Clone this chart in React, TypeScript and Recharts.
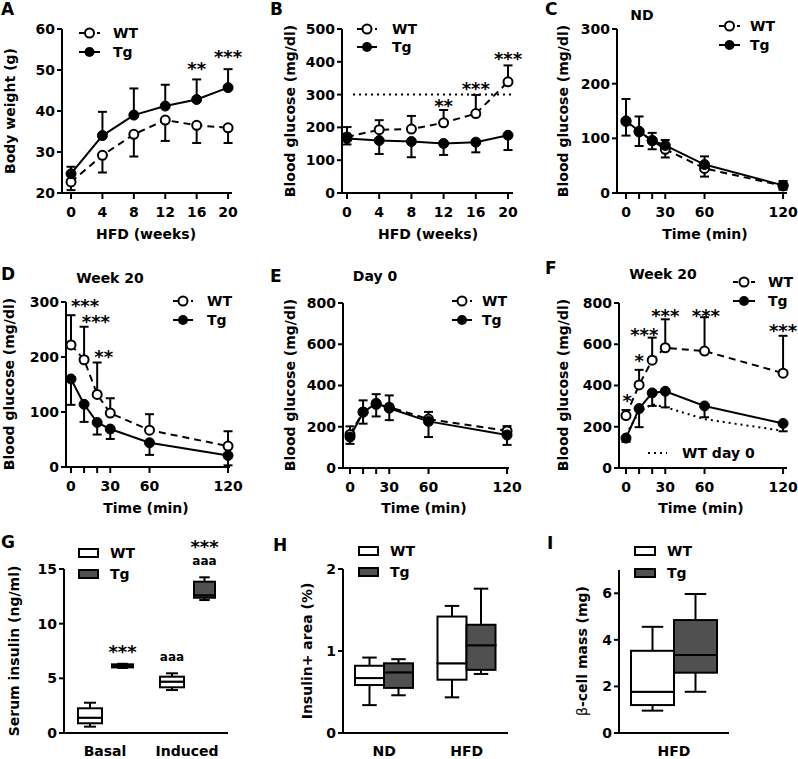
import React from 'react';
import {
  ComposedChart, Line, Bar, XAxis, YAxis, ErrorBar,
  ReferenceLine, ReferenceDot, Legend,
} from 'recharts';

const FONT = '"DejaVu Sans", "Liberation Sans", Arial, sans-serif';

// ---- A: body weight on HFD ----
const weeks = [0, 4, 8, 12, 16, 20];
const weekLabels = ['0', '4', '8', '12', '16', '20'];
const aWt = [22.7, 29.2, 34.3, 37.8, 36.5, 35.9];
const aWtEnd = [20.7, 25.0, 28.9, 32.7, 32.2, 32.2];
const aTg = [24.7, 34.0, 39.0, 41.2, 42.8, 45.7];
const aTgEnd = [26.4, 39.8, 45.5, 46.4, 47.7, 50.2];
const aStars = [{ x: 16, y: 51.2, text: '**' }, { x: 20, y: 54.1, text: '***' }];

// ---- B: fasting glucose on HFD ----
const bWt = [171, 193, 195, 214, 242, 339];
const bWtEnd = [201, 222, 235, 253, 299, 389];
const bTg = [166, 160, 157, 151, 155, 176];
const bTgEnd = [148, 119, 109, 116, 124, 131];
const bThreshold = 300;
const bStars = [{ x: 12, y: 278, text: '**' }, { x: 16, y: 329, text: '***' }, { x: 20, y: 421, text: '***' }];

// ---- C-F: ITT / GTT time courses ----
const times = [0, 10, 20, 30, 60, 120];
const timeLabels = ['0', '', '', '30', '60', '120'];

const cWt = [131, 112, 96, 80, 45, 13];
const cWtEnd = [105, 86, 80, 65, 30, 6];
const cTg = [132, 113, 96, 87, 52, 14];
const cTgEnd = [172, 140, 110, 97, 67, 22];

const dWt = [222, 195, 132, 98, 67, 38];
const dWtEnd = [276, 255, 190, 125, 96, 65];
const dTg = [160, 114, 81, 69, 44, 21];
const dTgEnd = [113, 82, 59, 51, 22, 3];
const dStars = [{ x: 10.7, y: 300, text: '***' }, { x: 19, y: 271, text: '***' }, { x: 25, y: 207, text: '**' }];

const eWt = [163, 272, 309, 295, 237, 180];
const eWtEnd = [202, 328, 358, 352, 272, 203];
const eTg = [150, 270, 314, 290, 226, 160];
const eTgEnd = [117, 215, 250, 232, 150, 112];

const fWt = [254, 403, 523, 583, 567, 460];
const fWtEnd = [281, 476, 632, 721, 731, 641];
const fTg = [145, 288, 364, 372, 301, 216];
const fTgEnd = [127, 198, 301, 294, 246, 178];
const fStars = [
  { x: 1, y: 346, text: '*' }, { x: 10, y: 540, text: '*' }, { x: 14, y: 666, text: '***' },
  { x: 30, y: 758, text: '***' }, { x: 61, y: 758, text: '***' }, { x: 120, y: 682, text: '***' },
];

// ---- G-I: box plots [min, q1, median, q3, max] per category ----
const gCats = ['Basal', 'Induced'];
const gWt = [[0.58, 0.89, 1.4, 2.26, 2.77], [3.93, 4.18, 4.7, 5.15, 5.46]];
const gTg = [[5.95, 6.0, 6.12, 6.28, 6.33], [12.16, 12.37, 12.6, 13.84, 14.24]];
const gWtNotes = [[], ['aaa']];
const gTgNotes = [['***'], ['aaa', '***']];

const hCats = ['ND', 'HFD'];
const hWt = [[0.34, 0.585, 0.67, 0.82, 0.92], [0.435, 0.65, 0.85, 1.42, 1.55]];
const hTg = [[0.46, 0.55, 0.74, 0.85, 0.9], [0.72, 0.77, 1.07, 1.32, 1.76]];

const iCats = ['HFD'];
const iWt = [[0.96, 1.2, 1.77, 3.53, 4.56]];
const iTg = [[1.77, 2.59, 3.35, 4.85, 5.97]];

const TG_FILL = '#505050';
const axisLine = { stroke: '#000', strokeWidth: 2 };
const tickFont = { fill: '#000', fontSize: 14, fontWeight: 700, fontFamily: FONT };
const TOP = 45;
const RIGHT = 15;
const YW = 50;
const XH = 40;

const errOf = (mean: number, end: number) => (end < mean ? [mean - end, 0] : [0, end - mean]);

const lineRows = (xs: number[], wt: number[], wtEnd: number[], tg: number[], tgEnd: number[], day0?: number[]) =>
  xs.map((x, i) => ({
    x,
    wt: wt[i],
    tg: tg[i],
    wtErr: errOf(wt[i], wtEnd[i]),
    tgErr: errOf(tg[i], tgEnd[i]),
    day0: day0 ? day0[i] : undefined,
  }));

type Star = { x: number; y: number; text: string };
type LegendItem = { kind: string; x1: number; x2: number; tx: number; y: number; label: string };

const StarText = ({ cx, cy, text }: { cx: number; cy: number; text: string }) => (
  <text x={cx} y={cy + 10} textAnchor="middle" fontSize={18} fontWeight={700} fontFamily={FONT} fill="#000">
    {text}
  </text>
);

const lineLegend = (items: LegendItem[], left: number, top: number) => () => (
  <svg width={1} height={1} style={{ position: 'absolute', left: 0, top: 0, overflow: 'visible' }}>
    {items.map((it, i) => {
      const y = it.y - top;
      const x1 = it.x1 - left;
      const x2 = it.x2 - left;
      const cx = (x1 + x2) / 2;
      const dash = it.kind === 'wt' ? '5 4' : it.kind === 'day0' ? '2 4' : undefined;
      return (
        <g key={i}>
          <line x1={x1} x2={x2} y1={y} y2={y} stroke="#000" strokeWidth={2} strokeDasharray={dash} />
          {it.kind === 'wt' && <circle cx={cx} cy={y} r={4.5} fill="#fff" stroke="#000" strokeWidth={2} />}
          {it.kind === 'tg' && <circle cx={cx} cy={y} r={5} fill="#000" />}
          <text x={it.tx - left} y={y} dominantBaseline="central" fontSize={14} fontWeight={700} fontFamily={FONT} fill="#000">
            {it.label}
          </text>
        </g>
      );
    })}
  </svg>
);

interface LineSpec {
  box: number[];
  xDomain: number[];
  xTicks: number[];
  xLabels: string[];
  yDomain: number[];
  yTicks: number[];
  rows: any[];
  stars: Star[];
  legend: LegendItem[];
  threshold?: { y: number; from: number; to: number };
  showDay0?: boolean;
}

const LinePanel = ({ spec }: { spec: LineSpec }) => {
  const [pl, pt, pr, pb] = spec.box;
  const left = pl - YW;
  const top = pt - TOP;
  const width = pr - pl + YW + RIGHT;
  const height = pb - pt + TOP + XH;
  return (
    <div style={{ position: 'absolute', left, top }}>
      <ComposedChart width={width} height={height} data={spec.rows} margin={{ top: TOP, right: RIGHT, bottom: 0, left: 0 }}>
        <XAxis
          type="number" dataKey="x" domain={spec.xDomain} ticks={spec.xTicks} interval={0}
          tickFormatter={(v: number) => spec.xLabels[spec.xTicks.indexOf(v)] ?? ''}
          height={XH} tickSize={6} tickMargin={8} axisLine={axisLine} tickLine={axisLine} tick={tickFont}
        />
        <YAxis
          type="number" domain={spec.yDomain} ticks={spec.yTicks} interval={0} width={YW}
          tickSize={5} tickMargin={2} axisLine={axisLine} tickLine={axisLine} tick={tickFont}
        />
        {spec.threshold && (
          <ReferenceLine
            segment={[{ x: spec.threshold.from, y: spec.threshold.y }, { x: spec.threshold.to, y: spec.threshold.y }]}
            stroke="#000" strokeWidth={2} strokeDasharray="2 4" ifOverflow="visible"
          />
        )}
        {spec.showDay0 && (
          <Line dataKey="day0" stroke="#000" strokeWidth={2} strokeDasharray="2 4" dot={false} activeDot={false} isAnimationActive={false} />
        )}
        <Line dataKey="wt" stroke="none" dot={false} activeDot={false} isAnimationActive={false} legendType="none">
          <ErrorBar dataKey="wtErr" direction="y" width={4.5} stroke="#000" strokeWidth={2} />
        </Line>
        <Line dataKey="tg" stroke="none" dot={false} activeDot={false} isAnimationActive={false} legendType="none">
          <ErrorBar dataKey="tgErr" direction="y" width={4.5} stroke="#000" strokeWidth={2} />
        </Line>
        <Line
          dataKey="wt" stroke="#000" strokeWidth={2} strokeDasharray="7 5" isAnimationActive={false} activeDot={false}
          dot={{ r: 4.5, fill: '#fff', stroke: '#000', strokeWidth: 2, strokeDasharray: '' }}
        />
        <Line
          dataKey="tg" stroke="#000" strokeWidth={2} isAnimationActive={false} activeDot={false}
          dot={{ r: 5, fill: '#000', stroke: '#000', strokeWidth: 1 }}
        />
        {spec.stars.map((s, i) => (
          <ReferenceDot
            key={i} x={s.x} y={s.y} r={1} ifOverflow="visible"
            shape={(p: any) => <StarText cx={p.cx} cy={p.cy} text={s.text} />}
          />
        ))}
        <Legend
          layout="horizontal" verticalAlign="middle" align="center"
          wrapperStyle={{ left: 0, top: 0 }}
          content={lineLegend(spec.legend, left, top)}
        />
      </ComposedChart>
    </div>
  );
};

// ---- box plot pieces ----
const whiskerLow = (p: any) => {
  const cx = p.x + p.width / 2;
  const cw = p.width * 0.25;
  const yb = p.y + p.height;
  return (
    <g>
      <line x1={cx} x2={cx} y1={p.y} y2={yb} stroke="#000" strokeWidth={2} />
      <line x1={cx - cw} x2={cx + cw} y1={yb} y2={yb} stroke="#000" strokeWidth={2} />
    </g>
  );
};

const whiskerHigh = (notes: string[][]) => (p: any) => {
  const cx = p.x + p.width / 2;
  const cw = p.width * 0.25;
  const list = notes[p.index] || [];
  return (
    <g>
      <line x1={cx} x2={cx} y1={p.y} y2={p.y + p.height} stroke="#000" strokeWidth={2} />
      <line x1={cx - cw} x2={cx + cw} y1={p.y} y2={p.y} stroke="#000" strokeWidth={2} />
      {list.map((n, k) => {
        const cy = p.y - 16 - k * 18;
        const isStar = n.startsWith('*');
        return (
          <text key={k} x={cx} y={cy + (isStar ? 10 : 3.5)} textAnchor="middle" fontSize={isStar ? 18 : 12}
            fontWeight={700} fontFamily={FONT} fill="#000">
            {n}
          </text>
        );
      })}
    </g>
  );
};

const boxShape = (fill: string) => (p: any) => (
  <rect x={p.x} y={p.y} width={p.width} height={p.height} fill={fill} stroke="#000" strokeWidth={2} />
);

const none = () => <g />;

interface BoxSpec {
  box: number[];
  cats: string[];
  yDomain: number[];
  yTicks: number[];
  wt: number[][];
  tg: number[][];
  wtSize: number;
  tgSize: number;
  gap: number;
  wtNotes: string[][];
  tgNotes: string[][];
  legend: { x1: number; x2: number; tx: number; y1: number; y2: number };
}

const BoxPanel = ({ spec }: { spec: BoxSpec }) => {
  const [pl, pt, pr, pb] = spec.box;
  const left = pl - YW;
  const top = pt - TOP;
  const width = pr - pl + YW + RIGHT;
  const height = pb - pt + TOP + XH;
  const rows = spec.cats.map((cat, i) => {
    const w = spec.wt[i];
    const t = spec.tg[i];
    return {
      cat,
      w0: w[0], w1: w[1] - w[0], w2: w[2] - w[1], w3: w[3] - w[2], w4: w[4] - w[3],
      t0: t[0], t1: t[1] - t[0], t2: t[2] - t[1], t3: t[3] - t[2], t4: t[4] - t[3],
    };
  });
  const lg = spec.legend;
  const legend = () => (
    <svg width={1} height={1} style={{ position: 'absolute', left: 0, top: 0, overflow: 'visible' }}>
      {[{ y: lg.y1, fill: '#fff', label: 'WT' }, { y: lg.y2, fill: TG_FILL, label: 'Tg' }].map((it, i) => (
        <g key={i}>
          <rect x={lg.x1 - left} y={it.y - top - 4} width={lg.x2 - lg.x1} height={8} fill={it.fill} stroke="#000" strokeWidth={2} />
          <text x={lg.tx - left} y={it.y - top} dominantBaseline="central" fontSize={14} fontWeight={700} fontFamily={FONT} fill="#000">
            {it.label}
          </text>
        </g>
      ))}
    </svg>
  );
  return (
    <div style={{ position: 'absolute', left, top }}>
      <ComposedChart width={width} height={height} data={rows} barGap={spec.gap} margin={{ top: TOP, right: RIGHT, bottom: 0, left: 0 }}>
        <XAxis
          type="category" dataKey="cat" interval={0} height={XH} tickSize={0} tickMargin={13}
          axisLine={axisLine} tickLine={false} tick={tickFont}
        />
        <YAxis
          type="number" domain={spec.yDomain} ticks={spec.yTicks} interval={0} width={YW}
          tickSize={5} tickMargin={2} axisLine={axisLine} tickLine={axisLine} tick={tickFont}
        />
        <Bar dataKey="w0" stackId="wt" barSize={spec.wtSize} shape={none} isAnimationActive={false} />
        <Bar dataKey="w1" stackId="wt" barSize={spec.wtSize} shape={whiskerLow} isAnimationActive={false} />
        <Bar dataKey="w2" stackId="wt" barSize={spec.wtSize} shape={boxShape('#fff')} isAnimationActive={false} />
        <Bar dataKey="w3" stackId="wt" barSize={spec.wtSize} shape={boxShape('#fff')} isAnimationActive={false} />
        <Bar dataKey="w4" stackId="wt" barSize={spec.wtSize} shape={whiskerHigh(spec.wtNotes)} isAnimationActive={false} />
        <Bar dataKey="t0" stackId="tg" barSize={spec.tgSize} shape={none} isAnimationActive={false} />
        <Bar dataKey="t1" stackId="tg" barSize={spec.tgSize} shape={whiskerLow} isAnimationActive={false} />
        <Bar dataKey="t2" stackId="tg" barSize={spec.tgSize} shape={boxShape(TG_FILL)} isAnimationActive={false} />
        <Bar dataKey="t3" stackId="tg" barSize={spec.tgSize} shape={boxShape(TG_FILL)} isAnimationActive={false} />
        <Bar dataKey="t4" stackId="tg" barSize={spec.tgSize} shape={whiskerHigh(spec.tgNotes)} isAnimationActive={false} />
        <Legend layout="horizontal" verticalAlign="middle" align="center" wrapperStyle={{ left: 0, top: 0 }} content={legend} />
      </ComposedChart>
    </div>
  );
};

const wtTg = (x1: number, x2: number, tx: number, y1: number, y2: number): LegendItem[] => [
  { kind: 'wt', x1, x2, tx, y: y1, label: 'WT' },
  { kind: 'tg', x1, x2, tx, y: y2, label: 'Tg' },
];

const panelA: LineSpec = {
  box: [62, 29, 232, 193], xDomain: [-1.15, 20.5], xTicks: weeks, xLabels: weekLabels,
  yDomain: [20, 60], yTicks: [20, 30, 40, 50, 60],
  rows: lineRows(weeks, aWt, aWtEnd, aTg, aTgEnd), stars: aStars, legend: wtTg(79, 100, 113, 33, 52),
};
const panelB: LineSpec = {
  box: [342, 29, 513, 193], xDomain: [-0.62, 20.62], xTicks: weeks, xLabels: weekLabels,
  yDomain: [0, 500], yTicks: [0, 100, 200, 300, 400, 500],
  rows: lineRows(weeks, bWt, bWtEnd, bTg, bTgEnd), stars: bStars, legend: wtTg(357, 377, 392, 29, 47),
  threshold: { y: bThreshold, from: 0.75, to: 20.6 },
};
const panelC: LineSpec = {
  box: [617, 29, 787, 193], xDomain: [-6.88, 123], xTicks: times, xLabels: timeLabels,
  yDomain: [0, 300], yTicks: [0, 100, 200, 300],
  rows: lineRows(times, cWt, cWtEnd, cTg, cTgEnd), stars: [], legend: wtTg(719, 740, 750, 26, 45),
};
const panelD: LineSpec = {
  box: [66, 302, 230, 467], xDomain: [-3.82, 121.5], xTicks: times, xLabels: timeLabels,
  yDomain: [0, 300], yTicks: [0, 100, 200, 300],
  rows: lineRows(times, dWt, dWtEnd, dTg, dTgEnd), stars: dStars, legend: wtTg(173, 193, 207, 301, 320),
};
const panelE: LineSpec = {
  box: [343, 303, 509, 468], xDomain: [-5.35, 121.5], xTicks: times, xLabels: timeLabels,
  yDomain: [0, 800], yTicks: [0, 200, 400, 600, 800],
  rows: lineRows(times, eWt, eWtEnd, eTg, eTgEnd), stars: [], legend: wtTg(452, 472, 482, 301, 320),
};
const panelF: LineSpec = {
  box: [619, 303, 787, 468], xDomain: [-5.35, 123], xTicks: times, xLabels: timeLabels,
  yDomain: [0, 800], yTicks: [0, 200, 400, 600, 800],
  rows: lineRows(times, fWt, fWtEnd, fTg, fTgEnd, eWt), stars: fStars, showDay0: true,
  legend: [...wtTg(733, 755, 768, 282, 301), { kind: 'day0', x1: 648, x2: 667, tx: 682, y: 453, label: 'WT day 0' }],
};

const panelG: BoxSpec = {
  box: [64, 569, 228, 733], cats: gCats, yDomain: [0, 15], yTicks: [0, 5, 10, 15],
  wt: gWt, tg: gTg, wtSize: 24, tgSize: 21, gap: 10, wtNotes: gWtNotes, tgNotes: gTgNotes,
  legend: { x1: 79, x2: 98, tx: 110, y1: 553, y2: 574 },
};
const panelH: BoxSpec = {
  box: [343, 569, 508, 733], cats: hCats, yDomain: [0, 2], yTicks: [0, 1, 2],
  wt: hWt, tg: hTg, wtSize: 29, tgSize: 29, gap: 0, wtNotes: [], tgNotes: [],
  legend: { x1: 359, x2: 378, tx: 390, y1: 551, y2: 572 },
};
const panelI: BoxSpec = {
  box: [619, 570, 729, 733], cats: iCats, yDomain: [0, 7], yTicks: [0, 2, 4, 6],
  wt: iWt, tg: iTg, wtSize: 43, tgSize: 43, gap: 0, wtNotes: [], tgNotes: [],
  legend: { x1: 635, x2: 655, tx: 667, y1: 551, y2: 573 },
};

const letters: [string, number, number][] = [
  ['A', 1, 15], ['B', 270, 15], ['C', 545, 15], ['D', 1, 280], ['E', 270, 282],
  ['F', 545, 274], ['G', 1, 548], ['H', 273, 551], ['I', 547, 549],
];
const titles: [string, number, number][] = [
  ['ND', 642, 20], ['Week 20', 110, 283], ['Day 0', 375, 281], ['Week 20', 663, 279],
  ['HFD (weeks)', 146, 239], ['HFD (weeks)', 428, 239], ['Time (min)', 705, 239],
  ['Time (min)', 146, 513], ['Time (min)', 424, 513], ['Time (min)', 701, 513],
];
const yTitles: [string, number, number][] = [
  ['Body weight (g)', 10, 111], ['Blood glucose (mg/dl)', 290, 111], ['Blood glucose (mg/dl)', 563, 111],
  ['Blood glucose (mg/dl)', 9, 384], ['Blood glucose (mg/dl)', 290, 385], ['Blood glucose (mg/dl)', 563, 385],
  ['Serum insulin (ng/ml)', 14, 651], ['Insulin+ area (%)', 307, 651],
];

export default function App() {
  return (
    <div style={{ position: 'absolute', left: 0, top: 0, width: 798, height: 759, background: '#fff', overflow: 'hidden' }}>
      <LinePanel spec={panelA} />
      <LinePanel spec={panelB} />
      <LinePanel spec={panelC} />
      <LinePanel spec={panelD} />
      <LinePanel spec={panelE} />
      <LinePanel spec={panelF} />
      <BoxPanel spec={panelG} />
      <BoxPanel spec={panelH} />
      <BoxPanel spec={panelI} />
      <svg width={798} height={759} style={{ position: 'absolute', left: 0, top: 0, pointerEvents: 'none' }}>
        {letters.map(([t, x, y]) => (
          <text key={t} x={x} y={y} fontSize={17} fontWeight={700} fontFamily={FONT} fill="#000">{t}</text>
        ))}
        {titles.map(([t, x, y], i) => (
          <text key={i} x={x} y={y} textAnchor="middle" fontSize={14} fontWeight={700} fontFamily={FONT} fill="#000">{t}</text>
        ))}
        {yTitles.map(([t, x, y], i) => (
          <text key={i} x={x} y={y} textAnchor="middle" dominantBaseline="central" transform={`rotate(-90 ${x} ${y})`}
            fontSize={14} fontWeight={700} fontFamily={FONT} fill="#000">{t}</text>
        ))}
        <text x={582} y={651} textAnchor="middle" dominantBaseline="central" transform="rotate(-90 582 651)"
          fontSize={14} fontWeight={700} fontFamily={FONT} fill="#000">
          <tspan fontWeight={400}>β</tspan>-cell mass (mg)
        </text>
      </svg>
    </div>
  );
}
